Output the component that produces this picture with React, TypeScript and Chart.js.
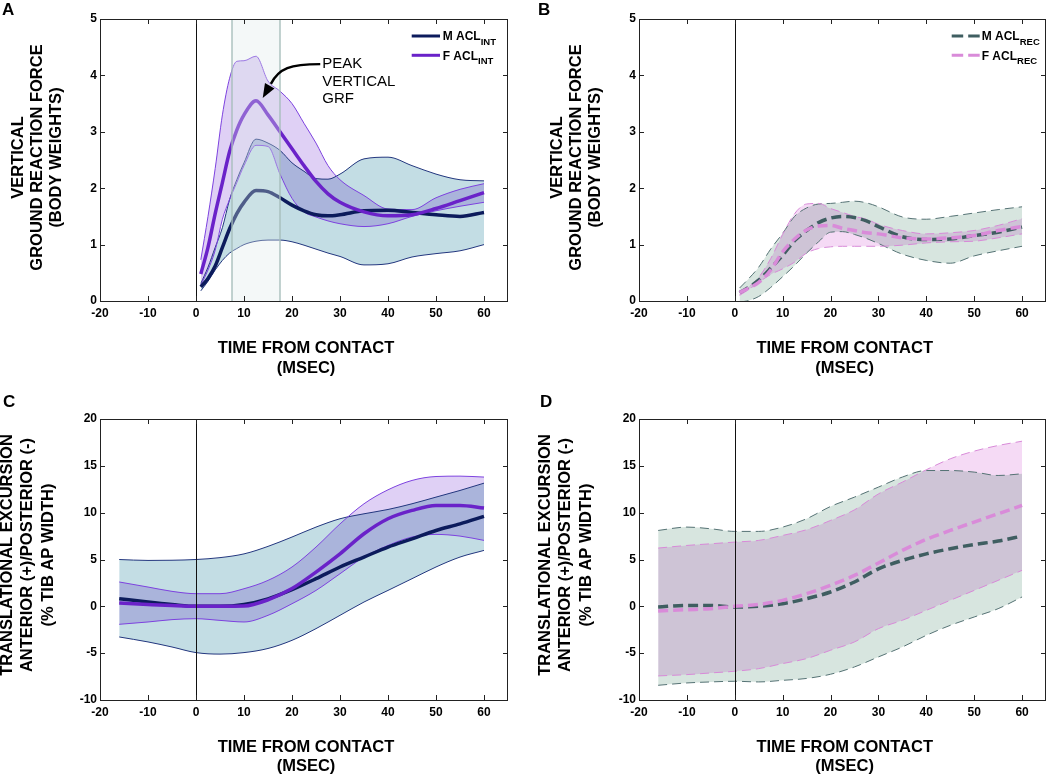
import React, { useEffect, useRef } from "react";
import { Chart, registerables } from "chart.js";

Chart.register(...registerables);

const FONT = '"Liberation Sans", Arial, Helvetica, sans-serif';
const W = 525;
const H = 388;

// ---------- axes ----------
const X_TICKS = [-20, -10, 0, 10, 20, 30, 40, 50, 60];
const X_MIN = -20;
const X_MAX = 65;
const GRF_TICKS = [0, 1, 2, 3, 4, 5];
const TRANS_TICKS = [-10, -5, 0, 5, 10, 15, 20];

// ---------- Panel A : vertical GRF, ACL intact ----------
const A_TIME = [1, 2.5, 4, 5.5, 7, 8.5, 10, 12.5, 15, 17.5, 20, 22.5, 25, 27.5, 30, 35, 40, 45, 50, 55, 60];
const A_M_MEAN = [0.25, 0.4, 0.62, 0.95, 1.28, 1.55, 1.75, 1.96, 1.94, 1.83, 1.7, 1.6, 1.53, 1.51, 1.53, 1.6, 1.61, 1.57, 1.53, 1.5, 1.57];
const A_M_UPPER = [0.31, 0.6, 0.95, 1.3, 1.8, 2.15, 2.45, 2.87, 2.8, 2.67, 2.45, 2.3, 2.17, 2.16, 2.25, 2.52, 2.55, 2.4, 2.25, 2.15, 2.13];
const A_M_LOWER = [0.18, 0.35, 0.55, 0.72, 0.85, 0.93, 1.0, 1.06, 1.08, 1.08, 1.05, 0.99, 0.92, 0.85, 0.79, 0.64, 0.66, 0.78, 0.84, 0.89, 1.0];
const A_F_MEAN = [0.48, 0.95, 1.55, 2.1, 2.65, 3.03, 3.3, 3.55, 3.3, 3.0, 2.7, 2.4, 2.12, 1.9, 1.75, 1.58, 1.51, 1.53, 1.64, 1.78, 1.92];
const A_F_UPPER = [0.73, 1.5, 2.35, 3.3, 3.95, 4.25, 4.26, 4.34, 3.9, 3.72, 3.5, 3.15, 2.8, 2.4, 2.15, 1.87, 1.63, 1.62, 1.83, 1.98, 2.08];
const A_F_LOWER = [0.28, 0.55, 0.9, 1.45, 1.8, 2.1, 2.4, 2.76, 2.74, 2.25, 1.82, 1.58, 1.49, 1.42, 1.37, 1.32, 1.37, 1.5, 1.6, 1.68, 1.75];
const PEAK_BAND = [7.5, 17.5];

// ---------- Panel B : vertical GRF, ACL reconstructed ----------
const B_TIME = [1, 2.5, 5, 7.5, 10, 12.5, 15, 17.5, 20, 22.5, 25, 27.5, 30, 35, 40, 45, 50, 55, 60];
const B_M_MEAN = [0.15, 0.22, 0.37, 0.58, 0.81, 1.07, 1.25, 1.39, 1.47, 1.5, 1.48, 1.42, 1.32, 1.14, 1.09, 1.1, 1.16, 1.22, 1.31];
const B_M_UPPER = [0.23, 0.36, 0.6, 0.92, 1.2, 1.5, 1.65, 1.72, 1.73, 1.75, 1.77, 1.74, 1.67, 1.49, 1.45, 1.5, 1.56, 1.62, 1.67];
const B_M_LOWER = [-0.02, 0.0, 0.08, 0.24, 0.43, 0.63, 0.85, 1.05, 1.22, 1.23, 1.18, 1.11, 1.02, 0.83, 0.72, 0.67, 0.8, 0.89, 0.97];
const B_F_MEAN = [0.15, 0.21, 0.33, 0.55, 0.87, 1.1, 1.26, 1.33, 1.34, 1.29, 1.25, 1.21, 1.19, 1.12, 1.1, 1.12, 1.16, 1.25, 1.32];
const B_F_UPPER = [0.12, 0.22, 0.42, 0.75, 1.18, 1.55, 1.72, 1.73, 1.64, 1.57, 1.5, 1.45, 1.36, 1.25, 1.19, 1.21, 1.25, 1.34, 1.46];
const B_F_LOWER = [0.1, 0.18, 0.33, 0.47, 0.57, 0.69, 0.85, 0.93, 0.96, 0.97, 0.97, 0.97, 0.97, 0.99, 1.03, 1.05, 1.06, 1.12, 1.19];

// ---------- Panel C : translational excursion, ACL intact ----------
const C_TIME = [-16, -10, -5, 0, 5, 10, 15, 20, 25, 30, 35, 40, 45, 50, 55, 60];
const C_M_MEAN = [0.82, 0.46, 0.2, 0, 0, 0.2, 0.8, 1.78, 2.95, 4.2, 5.26, 6.33, 7.2, 8.1, 8.8, 9.6];
const C_M_UPPER = [5.0, 4.9, 4.92, 5.0, 5.2, 5.6, 6.4, 7.4, 8.46, 9.35, 9.88, 10.34, 10.95, 11.66, 12.37, 13.15];
const C_M_LOWER = [-3.27, -3.8, -4.34, -4.94, -5.1, -4.94, -4.5, -3.63, -2.38, -0.96, 0.46, 1.7, 2.95, 4.2, 5.26, 5.97];
const C_F_MEAN = [0.36, 0.2, 0.08, 0, 0, 0.03, 0.7, 1.9, 3.66, 5.6, 7.75, 9.35, 10.24, 10.77, 10.77, 10.5];
const C_F_UPPER = [2.6, 2.06, 1.6, 1.35, 1.35, 1.88, 2.77, 4.2, 6.33, 8.8, 10.95, 12.44, 13.44, 13.86, 13.9, 13.8];
const C_F_LOWER = [-1.92, -1.67, -1.42, -1.32, -1.5, -1.67, -0.96, 0.28, 1.7, 3.48, 5.26, 6.5, 7.4, 7.68, 7.5, 7.04];

// ---------- Panel D : translational excursion, ACL reconstructed ----------
const D_TIME = [-16, -10, -5, 0, 5, 10, 15, 20, 25, 30, 35, 40, 45, 50, 55, 60];
const D_M_MEAN = [-0.07, 0.1, 0.1, -0.07, 0, 0.28, 0.82, 1.53, 2.6, 4.0, 4.9, 5.6, 6.15, 6.6, 6.97, 7.5];
const D_M_UPPER = [8.1, 8.46, 8.28, 8.0, 8.0, 8.46, 9.35, 10.66, 11.66, 12.73, 13.8, 14.5, 14.5, 14.33, 13.97, 14.15];
const D_M_LOWER = [-8.43, -8.18, -8.07, -8.0, -8.07, -7.9, -7.7, -7.25, -6.47, -5.4, -4.34, -3.1, -2.03, -1.14, -0.25, 1.0];
const D_F_MEAN = [-0.5, -0.36, -0.25, 0, 0.2, 0.64, 1.35, 2.24, 3.3, 4.62, 5.97, 7.15, 8.1, 9.0, 9.88, 10.77];
const D_F_UPPER = [6.22, 6.5, 6.68, 6.86, 7.04, 7.57, 8.18, 9.17, 10.3, 12.0, 13.26, 14.58, 15.75, 16.57, 17.17, 17.63];
const D_F_LOWER = [-7.43, -7.29, -7.11, -6.93, -6.65, -6.11, -5.58, -4.69, -3.8, -2.38, -1.49, -0.43, 0.64, 1.7, 2.77, 3.84];

// ---------- text ----------
const GRF_TITLE = ["VERTICAL", "GROUND REACTION FORCE", "(BODY WEIGHTS)"];
const TRANS_TITLE = ["TRANSLATIONAL EXCURSION", "ANTERIOR (+)/POSTERIOR (-)", "(% TIB AP WIDTH)"];
const X_TITLE = ["TIME FROM CONTACT", "(MSEC)"];
const ANNOTATION = ["PEAK", "VERTICAL", "GRF"];
const LEGEND_INT = [["M ACL", "INT"], ["F ACL", "INT"]];
const LEGEND_REC = [["M ACL", "REC"], ["F ACL", "REC"]];

// ---------- styles ----------
const STYLE = {
  int: {
    mLine: "#0c1b5c", mEdge: "#22367e", mFill: "#c3dde4",
    fLine: "#6a22c9", fEdge: "#7d42df", fFill: "#dfd0f5",
    meanDash: [] as number[], edgeDash: [] as number[],
  },
  rec: {
    mLine: "#3f5e61", mEdge: "#557274", mFill: "#d7e5df",
    fLine: "#d98bd9", fEdge: "#d88ad8", fFill: "#f5daf5",
    meanDash: [10, 5], edgeDash: [9, 5],
  },
};

type Area = { l: number; r: number; t: number; b: number };
interface PanelDef {
  id: string;
  letter: string;
  left: number;
  top: number;
  area: Area;
  time: number[];
  m: number[][];
  f: number[][];
  style: "int" | "rec";
  yMin: number;
  yMax: number;
  yTicks: number[];
  yTitle: string[];
  yTitleX: number[];
  yTitleY: number;
  xTitleX: number;
  xTitleY: number[];
  letterPos: number[];
  legend?: { labels: string[][]; x1: number; x2: number; tx: number; ys: number[] };
  band?: number[];
  annotation?: boolean;
}

const PANELS: PanelDef[] = [
  {
    id: "A", letter: "A", left: 0, top: 0,
    area: { l: 100, r: 508, t: 19, b: 301 },
    time: A_TIME, m: [A_M_MEAN, A_M_UPPER, A_M_LOWER], f: [A_F_MEAN, A_F_UPPER, A_F_LOWER],
    style: "int", yMin: 0, yMax: 5, yTicks: GRF_TICKS,
    yTitle: GRF_TITLE, yTitleX: [18.3, 37.5, 56.8], yTitleY: 157.5,
    xTitleX: 306, xTitleY: [348.3, 368.3], letterPos: [2, 15],
    legend: { labels: LEGEND_INT, x1: 411.7, x2: 440, tx: 442.7, ys: [36, 55.3] },
    band: PEAK_BAND, annotation: true,
  },
  {
    id: "B", letter: "B", left: 525, top: 0,
    area: { l: 114, r: 521, t: 19, b: 301 },
    time: B_TIME, m: [B_M_MEAN, B_M_UPPER, B_M_LOWER], f: [B_F_MEAN, B_F_UPPER, B_F_LOWER],
    style: "rec", yMin: 0, yMax: 5, yTicks: GRF_TICKS,
    yTitle: GRF_TITLE, yTitleX: [32.3, 51, 70.7], yTitleY: 157.5,
    xTitleX: 319.7, xTitleY: [348.3, 368.3], letterPos: [13, 15],
    legend: { labels: LEGEND_REC, x1: 426.7, x2: 455, tx: 456.7, ys: [36, 55.3] },
  },
  {
    id: "C", letter: "C", left: 0, top: 388,
    area: { l: 100, r: 508, t: 31, b: 312 },
    time: C_TIME, m: [C_M_MEAN, C_M_UPPER, C_M_LOWER], f: [C_F_MEAN, C_F_UPPER, C_F_LOWER],
    style: "int", yMin: -10, yMax: 20, yTicks: TRANS_TICKS,
    yTitle: TRANS_TITLE, yTitleX: [7.8, 27.8, 48.3], yTitleY: 167,
    xTitleX: 306, xTitleY: [359.3, 378.7], letterPos: [3, 19],
  },
  {
    id: "D", letter: "D", left: 525, top: 388,
    area: { l: 114, r: 521, t: 31, b: 312 },
    time: D_TIME, m: [D_M_MEAN, D_M_UPPER, D_M_LOWER], f: [D_F_MEAN, D_F_UPPER, D_F_LOWER],
    style: "rec", yMin: -10, yMax: 20, yTicks: TRANS_TICKS,
    yTitle: TRANS_TITLE, yTitleX: [20.7, 40.7, 61.5], yTitleY: 167,
    xTitleX: 319.7, xTitleY: [359.3, 378.7], letterPos: [15, 19],
  },
];

function pts(time: number[], vals: number[]) {
  return time.map((t, i) => ({ x: t, y: vals[i] }));
}

function makePlugin(p: PanelDef) {
  const st = STYLE[p.style];
  return {
    id: "panel_" + p.id,
    beforeDraw(chart: any) {
      // overlapping confidence bands darken each other (multiply blend)
      chart.ctx.globalCompositeOperation = "multiply";
    },
    beforeDatasetDraw(chart: any) {
      chart.ctx.globalCompositeOperation = "source-over";
    },
    afterDatasetsDraw(chart: any) {
      const ctx: CanvasRenderingContext2D = chart.ctx;
      const { left, right, top, bottom } = chart.chartArea;
      const xs = chart.scales.x;
      const ys = chart.scales.y;
      ctx.save();
      ctx.globalCompositeOperation = "source-over";
      if (p.band) {
        const bx1 = xs.getPixelForValue(p.band[0]);
        const bx2 = xs.getPixelForValue(p.band[1]);
        ctx.fillStyle = "rgba(222,234,232,0.32)";
        ctx.fillRect(bx1, top, bx2 - bx1, bottom - top);
        ctx.strokeStyle = "rgba(165,188,186,0.9)";
        ctx.lineWidth = 1.5;
        ctx.beginPath();
        ctx.moveTo(bx1, top); ctx.lineTo(bx1, bottom);
        ctx.moveTo(bx2, top); ctx.lineTo(bx2, bottom);
        ctx.stroke();
      }
      // contact line at t = 0
      const x0 = Math.round(xs.getPixelForValue(0)) + 0.5;
      ctx.strokeStyle = "#111";
      ctx.lineWidth = 1;
      ctx.beginPath();
      ctx.moveTo(x0, top); ctx.lineTo(x0, bottom);
      ctx.stroke();
      // box
      ctx.strokeStyle = "#222";
      ctx.lineWidth = 1;
      ctx.strokeRect(left + 0.5, top + 0.5, right - left - 1, bottom - top);
      // inward ticks
      ctx.beginPath();
      X_TICKS.forEach((v) => {
        const px = Math.round(xs.getPixelForValue(v)) + 0.5;
        ctx.moveTo(px, bottom); ctx.lineTo(px, bottom - 5);
        ctx.moveTo(px, top); ctx.lineTo(px, top + 5);
      });
      p.yTicks.forEach((v) => {
        const py = Math.round(ys.getPixelForValue(v)) + 0.5;
        ctx.moveTo(left, py); ctx.lineTo(left + 5, py);
        ctx.moveTo(right, py); ctx.lineTo(right - 5, py);
      });
      ctx.stroke();
      ctx.restore();
    },
    afterDraw(chart: any) {
      const ctx: CanvasRenderingContext2D = chart.ctx;
      const xs = chart.scales.x;
      const ys = chart.scales.y;
      ctx.save();
      ctx.globalCompositeOperation = "source-over";
      ctx.fillStyle = "#000";
      // panel letter
      ctx.font = `bold 17px ${FONT}`;
      ctx.textAlign = "left";
      ctx.textBaseline = "alphabetic";
      ctx.fillText(p.letter, p.letterPos[0], p.letterPos[1]);
      // y title
      ctx.font = `bold 16.5px ${FONT}`;
      ctx.textAlign = "center";
      ctx.textBaseline = "middle";
      p.yTitle.forEach((line, i) => {
        ctx.save();
        ctx.translate(p.yTitleX[i], p.yTitleY);
        ctx.rotate(-Math.PI / 2);
        ctx.fillText(line, 0, 0);
        ctx.restore();
      });
      // x title
      X_TITLE.forEach((line, i) => ctx.fillText(line, p.xTitleX, p.xTitleY[i]));
      // legend
      if (p.legend) {
        const lg = p.legend;
        const colors = [st.mLine, st.fLine];
        lg.labels.forEach((lab, i) => {
          const y = lg.ys[i];
          ctx.save();
          ctx.strokeStyle = colors[i];
          ctx.lineWidth = 3;
          ctx.setLineDash(p.style === "rec" ? [11.5, 5] : []);
          ctx.beginPath();
          ctx.moveTo(lg.x1, y); ctx.lineTo(lg.x2, y);
          ctx.stroke();
          ctx.restore();
          ctx.textAlign = "left";
          ctx.textBaseline = "alphabetic";
          ctx.font = `bold 12px ${FONT}`;
          ctx.fillText(lab[0], lg.tx, y + 4.3);
          const w = ctx.measureText(lab[0]).width;
          ctx.font = `bold 9.5px ${FONT}`;
          ctx.fillText(lab[1], lg.tx + w, y + 8.7);
        });
      }
      // peak annotation
      if (p.annotation) {
        const tx = xs.getPixelForValue(26.3);
        const ty = ys.getPixelForValue(4.2);
        ctx.font = `15px ${FONT}`;
        ctx.textAlign = "left";
        ctx.textBaseline = "middle";
        ANNOTATION.forEach((line, i) => ctx.fillText(line, tx, ty + i * 17.5));
        // curved arrow
        const sx = tx - 2;
        const sy = ty;
        const ex = xs.getPixelForValue(15.6);
        const ey = ys.getPixelForValue(3.85);
        const tipx = xs.getPixelForValue(13.9);
        const tipy = ys.getPixelForValue(3.6);
        ctx.strokeStyle = "#000";
        ctx.lineWidth = 2.4;
        ctx.beginPath();
        ctx.moveTo(sx, sy);
        ctx.bezierCurveTo(sx - 30, sy, ex + 8, sy + 4, ex, ey);
        ctx.stroke();
        const dx = tipx - ex;
        const dy = tipy - ey;
        const len = Math.hypot(dx, dy);
        const ux = dx / len, uy = dy / len;
        const bx = tipx - ux * 14, by = tipy - uy * 14;
        ctx.beginPath();
        ctx.moveTo(tipx, tipy);
        ctx.lineTo(bx - uy * 5.5, by + ux * 5.5);
        ctx.lineTo(bx + uy * 5.5, by - ux * 5.5);
        ctx.closePath();
        ctx.fill();
      }
      ctx.restore();
    },
  };
}

function buildConfig(p: PanelDef): any {
  const st = STYLE[p.style];
  const mean = (data: number[], color: string) => ({
    data: pts(p.time, data), borderColor: color, borderWidth: 3.5, borderDash: st.meanDash,
    pointRadius: 0, fill: false, cubicInterpolationMode: "monotone",
  });
  const edge = (data: number[], color: string, fill: any, bg: string) => ({
    data: pts(p.time, data), borderColor: color, borderWidth: 1, borderDash: st.edgeDash,
    pointRadius: 0, fill, backgroundColor: bg, cubicInterpolationMode: "monotone",
  });
  const tickFont = { family: FONT, size: 12, weight: "bold" };
  return {
    type: "line",
    data: {
      datasets: [
        mean(p.f[0], st.fLine),
        mean(p.m[0], st.mLine),
        edge(p.f[1], st.fEdge, "+1", st.fFill),
        edge(p.f[2], st.fEdge, false, st.fFill),
        edge(p.m[1], st.mEdge, "+1", st.mFill),
        edge(p.m[2], st.mEdge, false, st.mFill),
      ],
    },
    options: {
      animation: false,
      responsive: false,
      devicePixelRatio: 1,
      events: [],
      layout: { padding: { left: 0, top: p.area.t, right: W - p.area.r, bottom: 0 } },
      plugins: {
        legend: { display: false },
        tooltip: { enabled: false },
        filler: { drawTime: "beforeDatasetsDraw", propagate: false },
      },
      scales: {
        x: {
          type: "linear", min: X_MIN, max: X_MAX,
          afterBuildTicks: (s: any) => { s.ticks = X_TICKS.map((v) => ({ value: v })); },
          afterFit: (s: any) => { s.height = H - p.area.b; },
          ticks: { font: tickFont, color: "#000", padding: 5, autoSkip: false, maxRotation: 0 },
          grid: { display: false, drawTicks: false, tickLength: 0 },
          border: { display: false },
        },
        y: {
          type: "linear", min: p.yMin, max: p.yMax,
          afterBuildTicks: (s: any) => { s.ticks = p.yTicks.map((v) => ({ value: v })); },
          afterFit: (s: any) => { s.width = p.area.l; },
          ticks: { font: tickFont, color: "#000", padding: 3, autoSkip: false },
          grid: { display: false, drawTicks: false, tickLength: 0 },
          border: { display: false },
        },
      },
    },
    plugins: [makePlugin(p)],
  };
}

function Panel({ def }: { def: PanelDef }) {
  const ref = useRef<HTMLCanvasElement | null>(null);
  useEffect(() => {
    if (!ref.current) return;
    const chart = new Chart(ref.current, buildConfig(def));
    return () => chart.destroy();
  }, [def]);
  return (
    <canvas
      ref={ref}
      width={W}
      height={H}
      style={{ position: "absolute", left: def.left, top: def.top, width: W, height: H }}
    />
  );
}

export default function App() {
  return (
    <div style={{ position: "absolute", left: 0, top: 0, width: 1050, height: 776, background: "#fff" }}>
      {PANELS.map((p) => (
        <Panel key={p.id} def={p} />
      ))}
    </div>
  );
}
